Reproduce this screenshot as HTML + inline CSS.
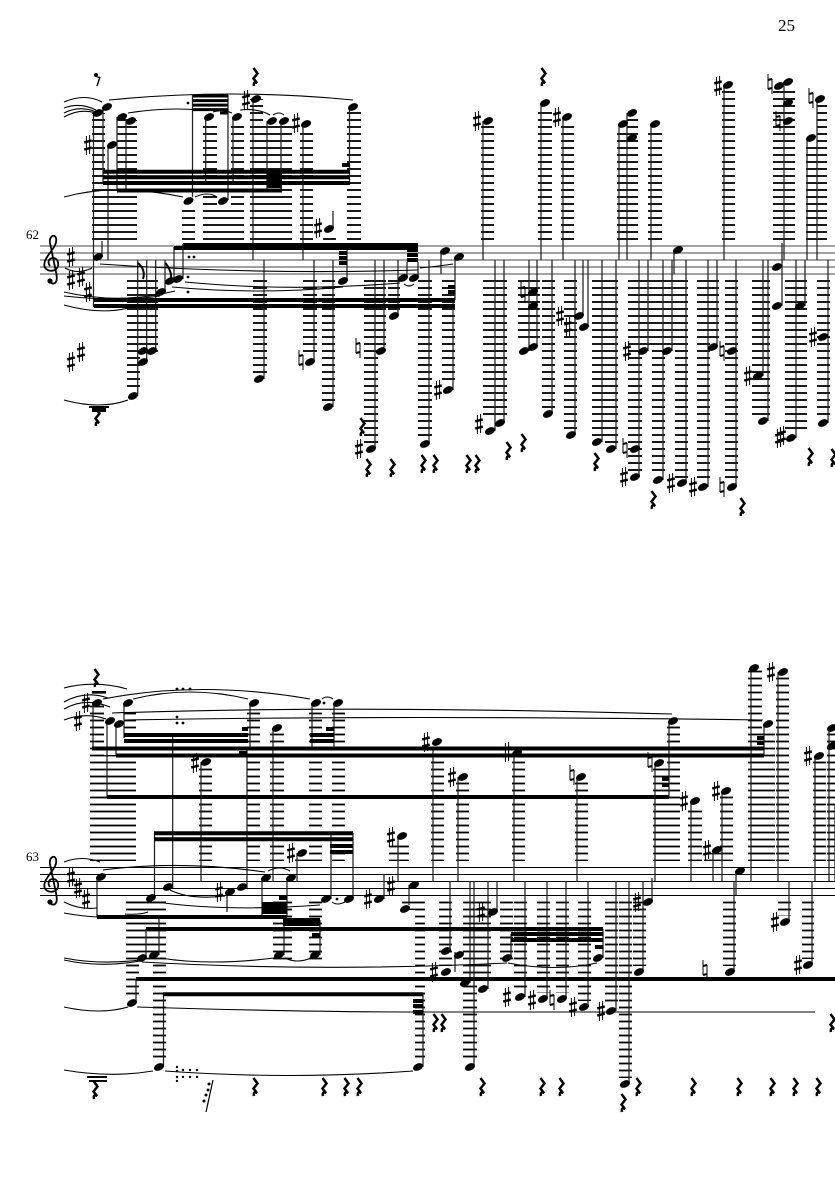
<!DOCTYPE html>
<html><head><meta charset="utf-8"><style>
html,body{margin:0;padding:0;background:#fff}
svg{display:block}
text{font-family:"Liberation Serif",serif;fill:#000}
.st{stroke:#222;stroke-width:1.25;fill:none}
.sl{stroke:#000;stroke-width:1.1;fill:none}
.b{stroke:#000;stroke-width:4;fill:none}
.c{stroke:#000;stroke-width:2;fill:none}
</style></head><body>
<svg xmlns="http://www.w3.org/2000/svg" width="835" height="1181" viewBox="0 0 835 1181">
<defs>
<pattern id="a" patternUnits="userSpaceOnUse" width="835" height="7"><rect x="0" y=".1" width="835" height="1.8" fill="#000"/></pattern>
<pattern id="e" patternUnits="userSpaceOnUse" width="835" height="7"><rect x="0" y="5.6" width="835" height="1.4" fill="#000"/><rect x="0" y="0" width="835" height=".4" fill="#000"/></pattern>
<ellipse id="n" rx="5.3" ry="3.4" transform="rotate(-25)" fill="#000"/>
<g id="s" fill="none" stroke="#000"><path stroke-width="1" d="M-1.6-9V10M1.6-10V9"/><path stroke-width="2.5" d="M-3.8-2.6L3.8-4.6M-3.8 4.6L3.8 2.6"/></g>
<g id="h" fill="none" stroke="#000"><path stroke-width="1" d="M-2-10V5M2-5V10"/><path stroke-width="2" d="M-2-4L2-5M-2 5L2 4"/></g>
<path id="r" fill="none" stroke="#000" stroke-width="2.5" d="M-1.5-9L2.5-3.5-1.5 1.5 2 6Q-2 4-1 9"/>
<g id="k" fill="none" stroke="#000"><path stroke-width="1.8" d="M51 283C56 285 58 281 56 272L50 243C49 237 54 233 56 238C58 246 48 253 45 261C42 270 50 272 55 270C60 267 59 258 53 258C49 258 47 262 50 266"/><circle cx="50" cy="281" r="2.6" fill="#000" stroke="none"/></g>
</defs>

<text x="778" y="31" font-size="17">25</text>
<text x="26" y="239" font-size="13">62</text>
<text x="26" y="861" font-size="13">63</text>

<!-- staves -->
<path stroke="#444" stroke-width="1" fill="none" d="M40 246H835M40 253H835M40 260H835M40 267H835M40 274H835"/>
<path stroke="#000" stroke-width="1" fill="none" d="M40 867.5H835M40 874.5H835M40 881.5H835M40 888.5H835M40 895.5H835"/>
<use href="#k"/><use href="#k" y="621"/>

<!-- ledger stacks system 1 -->
<path fill="url(#a)" d="M92 113H105V240H92zM117 117H129V240H117zM125 120H137V240H125zM105 183H137V240H105zM182 205H195V240H182zM203 123H217V240H203zM203 205H244V240H203zM231 123H244V240H231zM250 99H263V240H250zM263 122H292V240H263zM300 129H313V240H300zM347 109H361V240H347zM323 238H336V240H323zM481 126H494V240H481zM538 109H552V240H538zM561 122H574V240H561zM617 129H638V240H617zM627 115H638V240H627zM648 129H662V240H648zM722 91H735V240H722zM773 91H795V240H773zM817 104H827V240H817zM806 143H827V240H806z"/>
<path fill="url(#a)" d="M127 280H140V390H127zM140 280H158V352H140zM253 280H267V373H253zM303 280H317V356H303zM322 280H335V401H322zM364 280H378V443H364zM373 280H386V345H373zM388 280H400V310H388zM418 280H432V438H418zM442 280H455V384H442zM483 280H507V418H483zM518 280H540V341H518zM542 280H555V408H542zM564 280H577V429H564zM592 280H605V436H592zM605 280H618V443H605zM628 280H642V471H628zM633 280H652V345H633zM652 280H665V474H652zM660 280H675V345H660zM675 280H688V478H675zM697 280H710V481H697zM697 280H719V341H697zM725 280H738V481H725zM752 280H770V415H752zM785 280H807V432H785zM817 280H830V417H817z"/>

<!-- ledger stacks system 2 -->
<path fill="url(#e)" d="M90 705H104V861H90zM90 755H136V861H90zM124 711H136V861H124zM199 767H212V861H199zM247 711H260V861H247zM270 732H284V861H270zM309 711H322V861H309zM332 711H345V861H332zM431 746H444V861H431zM456 781H469V861H456zM512 758H525V861H512zM575 781H588V861H575zM653 767H667V861H653zM667 725H680V861H667zM688 806H702V861H688zM720 795H733V861H720zM704 853H720V861H704zM748 669H762V861H748zM762 730H775V861H762zM776 676H789V861H776zM813 760H826V861H813zM827 732H835V861H827zM295 855H309V861H295zM389 841H409V861H389z"/>
<path fill="url(#e)" d="M126 901H139V996H126zM126 901H166V960H126zM153 901H166V1061H153zM273 901H292V960H273zM309 901H322V960H309zM402 901H415V910H402zM415 901H425V1061H415zM439 901H452V966H439zM463 901H477V1061H463zM477 901H491V983H477zM500 901H513V960H500zM514 901H527V991H514zM537 901H550V993H537zM556 901H569V993H556zM578 901H591V1001H578zM605 901H618V1005H605zM619 901H632V1078H619zM633 901H646V966H633zM723 901H736V966H723zM778 901H791V916H778zM802 901H814V959H802z"/>
<path fill="#000" d="M87 1076h20v2H87zM89 1080h18v2H89zM92 691h14v2.6H92zM89 406h20v2H89zM92 408h14v4H92zM267 173h15v15H267z"/>

<!-- stems system 1 -->
<path class="st" d="M93.5 113V307M103 107V184M108 145V260M117 117V191M126 121V190M192.5 95V197M228 95V200M205.7 117V183M233 117V183M253 99V260M267 121V190M281 121V190M303 124V260M349.5 107V183M333 229V211M102 257V241M174 281V247M183 279V244M165 292V260M137.7 260V396M146.7 260V362M155.7 260V351M264 260V379M314 260V362M333 260V407M347 243V281M375 260V449M384 260V351M398 260V316M407 278V262M418 278V262M429 260V444M441 251V274M455 257V300M453 300V390M483 121V260M495 260V431M504 260V423M529 260V351M537 260V347M552 260V414M541 103V260M563 117V260M575 260V435M583 260V316M588 260V327M602 260V442M616 260V449M619 124V260M627 113V260M639 260V477M648 260V351M651 124V260M663 260V480M672 260V351M674 250V274M686 260V483M708 260V487M717 260V347M724 85V260M736 260V487M763 260V376M768 260V421M782 243V306M784 86V260M796 260V438M805 260V306M807 138V260M817 99V260M828 260V423"/>
<!-- stems system 2 -->
<path class="st" d="M93 703V749M107 721V797M116 724V755M124 703V738M172.7 735V888M247 748V888M250 703V748M201 762V881M273 728V881M312 703V748M334 703V748M154.5 833V898M331 833V899M353 833V899M97 877V917M262 878V917M287 878V917M227 892V912M297 853V881M398 836V881M384 874V899M409 885V905M433 749V881M458 777V881M514 753V881M577 777V881M655 763V881M669 721V797M691 801V881M722 791V881M713 850V881M751 668V881M778 672V881M764 724V755M815 756V881M829 728V881M835 805V881M146 929V958M159 917V955M136 979V1003M163.5 994V1067M284 917V955M320 920V955M423 994V1067M450 881V951M455 952V972M470 881V983M474 881V1067M488 881V989M497 881V912M511 934V958M603 929V958M525 881V997M547 881V999M566 881V999M588 881V1007M616 881V1011M629 881V1084M643 881V972M652 878V902M734 881V972M736 871V895M789 881V922M812 881V965"/>
<!-- flags -->
<path class="c" stroke-width="1.2" d="M138 263Q146 270 143 279M165.5 263Q172 272 171 278"/>

<!-- beams system 1 -->
<path class="b" d="M103 171.7H350M103 177.3H350M103 183H350M117 190.5H282M342 165H350M183 245H418M174 248H418M339 253H347M339 258H347M339 263H347M407 250H418M407 255H418M407 260H418M94 300H455M94 306H455M448 287H455M448 292H455" />
<path class="b" style="stroke-width:3" d="M193 96H228M193 100.6H228M193 105.1H228M193 109.6H228M220 113H228"/>
<!-- beams system 2 -->
<path class="b" d="M92 748.5H764M116 755.5H764M107 797H669M124 735H248M124 741H248M242 729H248M239 753H247M310 735H334M310 741H334M326 729H334M154 833.3H353M154 839.3H353M330 846H353M330 852H353M97 917H287M262 904H287M262 908H287M262 912H287M279 898H287M283 920H320M283 924H320M312 935H320M146 929H603M136 979H835M163 994.3H423M413 1001H423M413 1006H423M413 1012H423M511 934H603M511 940H603M595 947H603M662 779H669M662 785H669M757 738H764M757 743H764"/>

<!-- slurs system 1 -->
<path class="sl" d="M64 102Q85 93 102 102M64 108Q80 102 96 110M64 113Q80 105 96 112M64 117Q80 108 96 113M109 100Q230 88 353 100M128 113Q165 107 200 110M213 112Q222 109 232 113M240 110Q258 108 270 115M273 115Q279 111 284 115M64 197Q90 190 117 190M117 190Q150 190 183 197M195 197Q208 191 217 197M100 264Q260 275 418 270M172 287Q260 295 343 287M185 282Q290 292 400 283M65 268Q78 275 92 268M64 292Q120 305 175 291M64 296Q120 302 160 296M64 305Q100 315 128 308M64 400Q100 410 128 400M404 284Q409 288 414 284M420 268Q440 266 453 264"/>
<!-- slurs system 2 -->
<path class="sl" d="M64 688Q95 680 127 689M64 702Q85 690 108 698M64 709Q85 697 110 707M64 720Q85 712 106 719M133 699Q190 685 248 699M103 699Q200 680 310 699M322 699Q327 695 333 699M112 713Q350 705 672 714M125 720Q400 715 763 720M64 862Q82 855 100 862M103 870Q180 860 265 872M268 871Q280 865 290 871M170 890Q190 900 225 896M64 902Q80 910 97 908M64 913Q80 916 97 917M126 902H166M125 914Q140 915 148 912M157 902Q225 912 320 905M332 902Q337 906 345 902M64 958Q100 965 140 960M64 960Q100 968 140 961M160 958Q210 966 274 958M285 958Q297 964 311 958M142 962Q320 972 507 963M508 963Q555 972 597 963M64 1007Q100 1015 128 1007M137 1007Q300 1012 420 1012L815 1012M64 1070Q110 1078 153 1071M165 1071Q290 1080 413 1071"/>

<!-- noteheads system 1 -->
<g>
<use href="#n" x="98" y="113"/><use href="#n" x="107" y="107"/><use href="#n" x="122" y="117"/><use href="#n" x="131" y="121"/><use href="#n" x="112" y="145"/>
<use href="#n" x="209" y="117"/><use href="#n" x="237" y="117"/><use href="#n" x="256" y="99"/><use href="#n" x="272" y="121"/><use href="#n" x="284" y="121"/><use href="#n" x="306" y="124"/><use href="#n" x="353" y="107"/>
<use href="#n" x="188.5" y="201"/><use href="#n" x="223" y="201"/><use href="#n" x="329" y="229"/><use href="#n" x="98" y="257"/>
<use href="#n" x="133" y="396"/><use href="#n" x="143" y="362"/><use href="#n" x="143" y="351"/><use href="#n" x="152" y="351"/><use href="#n" x="161" y="292"/><use href="#n" x="170" y="281"/><use href="#n" x="178" y="279"/>
<use href="#n" x="259" y="379"/><use href="#n" x="310" y="362"/><use href="#n" x="328" y="407"/><use href="#n" x="343" y="281"/><use href="#n" x="371" y="449"/><use href="#n" x="381" y="351"/><use href="#n" x="394" y="316"/><use href="#n" x="403" y="278"/><use href="#n" x="414" y="278"/>
<use href="#n" x="445" y="251"/><use href="#n" x="459" y="257"/><use href="#n" x="425" y="444"/><use href="#n" x="448" y="390"/><use href="#n" x="490" y="431"/><use href="#n" x="500" y="423"/><use href="#n" x="524" y="351"/><use href="#n" x="533" y="347"/><use href="#n" x="533" y="292"/><use href="#n" x="533" y="306"/><use href="#n" x="548" y="414"/><use href="#n" x="571" y="435"/><use href="#n" x="579" y="316"/><use href="#n" x="584" y="327"/><use href="#n" x="597" y="442"/><use href="#n" x="611" y="449"/><use href="#n" x="635" y="477"/><use href="#n" x="635" y="449"/><use href="#n" x="643" y="351"/><use href="#n" x="658" y="480"/><use href="#n" x="667" y="351"/><use href="#n" x="678" y="250"/><use href="#n" x="682" y="483"/><use href="#n" x="703" y="487"/><use href="#n" x="713" y="347"/><use href="#n" x="732" y="487"/><use href="#n" x="732" y="351"/><use href="#n" x="758" y="376"/><use href="#n" x="763" y="421"/><use href="#n" x="777" y="267"/><use href="#n" x="777" y="306"/><use href="#n" x="791" y="438"/><use href="#n" x="800" y="306"/><use href="#n" x="823" y="423"/><use href="#n" x="823" y="337"/>
<use href="#n" x="488" y="121"/><use href="#n" x="545" y="103"/><use href="#n" x="567" y="117"/><use href="#n" x="623" y="124"/><use href="#n" x="632" y="113"/><use href="#n" x="632" y="138"/><use href="#n" x="655" y="124"/><use href="#n" x="728" y="85"/><use href="#n" x="779" y="86"/><use href="#n" x="788" y="82"/><use href="#n" x="788" y="103"/><use href="#n" x="788" y="121"/><use href="#n" x="820" y="99"/><use href="#n" x="811" y="138"/>
</g>
<!-- noteheads system 2 -->
<g>
<use href="#n" x="97" y="703"/><use href="#n" x="110" y="721"/><use href="#n" x="119" y="724"/><use href="#n" x="128" y="703"/><use href="#n" x="254" y="703"/><use href="#n" x="277" y="728"/><use href="#n" x="316" y="703"/><use href="#n" x="338" y="703"/><use href="#n" x="206" y="762"/><use href="#n" x="242" y="887"/><use href="#n" x="168" y="887"/><use href="#n" x="302" y="853"/><use href="#n" x="402" y="836"/><use href="#n" x="151" y="898"/><use href="#n" x="326" y="899"/><use href="#n" x="349" y="899"/><use href="#n" x="101" y="877"/><use href="#n" x="266" y="878"/><use href="#n" x="291" y="878"/><use href="#n" x="230" y="892"/><use href="#n" x="379" y="899"/><use href="#n" x="414" y="885"/><use href="#n" x="405" y="909"/>
<use href="#n" x="142" y="958"/><use href="#n" x="154" y="955"/><use href="#n" x="279" y="955"/><use href="#n" x="315" y="955"/><use href="#n" x="132" y="1003"/><use href="#n" x="159" y="1067"/><use href="#n" x="418" y="1067"/>
<use href="#n" x="446" y="951"/><use href="#n" x="446" y="972"/><use href="#n" x="459" y="955"/><use href="#n" x="465" y="983"/><use href="#n" x="470" y="1067"/><use href="#n" x="483" y="989"/><use href="#n" x="493" y="912"/><use href="#n" x="507" y="958"/><use href="#n" x="598" y="958"/><use href="#n" x="520" y="997"/><use href="#n" x="543" y="999"/><use href="#n" x="562" y="999"/><use href="#n" x="584" y="1007"/><use href="#n" x="611" y="1011"/><use href="#n" x="625" y="1084"/><use href="#n" x="639" y="972"/><use href="#n" x="648" y="902"/><use href="#n" x="730" y="972"/><use href="#n" x="740" y="871"/><use href="#n" x="785" y="922"/><use href="#n" x="808" y="965"/>
<use href="#n" x="437" y="742"/><use href="#n" x="463" y="777"/><use href="#n" x="517" y="753"/><use href="#n" x="581" y="777"/><use href="#n" x="659" y="763"/><use href="#n" x="673" y="721"/><use href="#n" x="695" y="801"/><use href="#n" x="726" y="791"/><use href="#n" x="717" y="850"/><use href="#n" x="754" y="668"/><use href="#n" x="783" y="672"/><use href="#n" x="768" y="724"/><use href="#n" x="819" y="756"/><use href="#n" x="832" y="728"/><use href="#n" x="832" y="746"/>
</g>

<!-- sharps -->
<g>
<use href="#s" x="71" y="257"/><use href="#s" x="71" y="280"/><use href="#s" x="81" y="277"/><use href="#s" x="88" y="292"/><use href="#s" x="88" y="145"/><use href="#s" x="246" y="100"/><use href="#s" x="296" y="123"/><use href="#s" x="318" y="228"/><use href="#s" x="81" y="352"/><use href="#s" x="71" y="362"/><use href="#s" x="359" y="449"/><use href="#s" x="438" y="390"/><use href="#s" x="479" y="424"/><use href="#s" x="568" y="327"/><use href="#s" x="560" y="316"/><use href="#s" x="624" y="477"/><use href="#s" x="627" y="351"/><use href="#s" x="671" y="483"/><use href="#s" x="693" y="487"/><use href="#s" x="748" y="376"/><use href="#s" x="779" y="438"/><use href="#s" x="782" y="436"/><use href="#s" x="813" y="337"/><use href="#s" x="477" y="121"/><use href="#s" x="557" y="117"/><use href="#s" x="718" y="86"/>
<use href="#s" x="71" y="877"/><use href="#s" x="78" y="888"/><use href="#s" x="86" y="899"/><use href="#s" x="86" y="703"/><use href="#s" x="78" y="721"/><use href="#s" x="195" y="763"/><use href="#s" x="291" y="853"/><use href="#s" x="391" y="837"/><use href="#s" x="219" y="892"/><use href="#s" x="368" y="899"/><use href="#s" x="391" y="886"/><use href="#s" x="434" y="972"/><use href="#s" x="481" y="912"/><use href="#s" x="507" y="997"/><use href="#s" x="532" y="1000"/><use href="#s" x="573" y="1007"/><use href="#s" x="601" y="1011"/><use href="#s" x="637" y="902"/><use href="#s" x="775" y="922"/><use href="#s" x="798" y="965"/><use href="#s" x="426" y="742"/><use href="#s" x="452" y="777"/><use href="#s" x="507" y="752"/><use href="#s" x="684" y="801"/><use href="#s" x="716" y="791"/><use href="#s" x="707" y="850"/><use href="#s" x="771" y="672"/><use href="#s" x="808" y="756"/>
</g>
<!-- naturals -->
<g>
<use href="#h" x="301" y="360"/><use href="#h" x="358" y="348"/><use href="#h" x="523" y="292"/><use href="#h" x="625" y="448"/><use href="#h" x="722" y="487"/><use href="#h" x="722" y="351"/><use href="#h" x="770" y="84"/><use href="#h" x="778" y="121"/><use href="#h" x="811" y="98"/><use href="#h" x="552" y="1000"/><use href="#h" x="705" y="970"/><use href="#h" x="572" y="775"/><use href="#h" x="650" y="762"/>
</g>
<!-- rests -->
<g>
<use href="#r" x="255" y="77"/><use href="#r" x="543" y="77"/><use href="#r" x="97" y="417"/><use href="#r" x="362" y="427"/><use href="#r" x="368" y="468"/><use href="#r" x="392" y="468"/><use href="#r" x="423" y="464"/><use href="#r" x="435" y="464"/><use href="#r" x="468" y="464"/><use href="#r" x="477" y="464"/><use href="#r" x="508" y="451"/><use href="#r" x="523" y="443"/><use href="#r" x="596" y="462"/><use href="#r" x="653" y="500"/><use href="#r" x="742" y="507"/><use href="#r" x="810" y="457"/><use href="#r" x="833" y="458"/>
<use href="#r" x="96" y="678"/><use href="#r" x="95" y="1090"/><use href="#r" x="255" y="1087"/><use href="#r" x="324" y="1087"/><use href="#r" x="346" y="1087"/><use href="#r" x="359" y="1087"/><use href="#r" x="435" y="1023"/><use href="#r" x="443" y="1023"/><use href="#r" x="482" y="1087"/><use href="#r" x="542" y="1087"/><use href="#r" x="561" y="1087"/><use href="#r" x="623" y="1103"/><use href="#r" x="638" y="1087"/><use href="#r" x="693" y="1087"/><use href="#r" x="739" y="1087"/><use href="#r" x="772" y="1087"/><use href="#r" x="795" y="1087"/><use href="#r" x="818" y="1087"/><use href="#r" x="832" y="1023"/>
</g>
<!-- eighth rest -->
<path fill="none" stroke="#000" stroke-width="1.4" d="M100 77L97 86"/><circle cx="96" cy="75" r="2.1"/><path fill="none" stroke="#000" stroke-width="1.2" d="M96 76Q98 78 100 77"/>
<!-- 64th rest -->
<path fill="none" stroke="#000" stroke-width="1.2" d="M213 1080L206 1112"/>
<g fill="#000"><circle cx="209" cy="1084" r="1.5"/><circle cx="208" cy="1090" r="1.5"/><circle cx="206" cy="1095" r="1.5"/><circle cx="204" cy="1101" r="1.5"/>
<circle cx="177" cy="1067" r="1.2"/><circle cx="177" cy="1071" r="1.2"/><circle cx="177" cy="1077" r="1.2"/><circle cx="177" cy="1081" r="1.2"/><circle cx="183" cy="1070" r="1.2"/><circle cx="183" cy="1077" r="1.2"/><circle cx="190" cy="1070" r="1.2"/><circle cx="190" cy="1077" r="1.2"/><circle cx="197" cy="1070" r="1.2"/><circle cx="197" cy="1077" r="1.2"/>
<!-- dots -->
<circle cx="188" cy="103" r="1.4"/><circle cx="189" cy="257" r="1.4"/><circle cx="194" cy="257" r="1.4"/><circle cx="188" cy="277" r="1.4"/><circle cx="188" cy="292" r="1.4"/>
<circle cx="177" cy="689" r="1.4"/><circle cx="183" cy="689" r="1.4"/><circle cx="190" cy="689" r="1.4"/><circle cx="177" cy="717" r="1.4"/><circle cx="177" cy="723" r="1.4"/><circle cx="183" cy="723" r="1.4"/><circle cx="324" cy="703" r="1.4"/><circle cx="337" cy="899" r="1.4"/>
</g>
</svg>
</body></html>
